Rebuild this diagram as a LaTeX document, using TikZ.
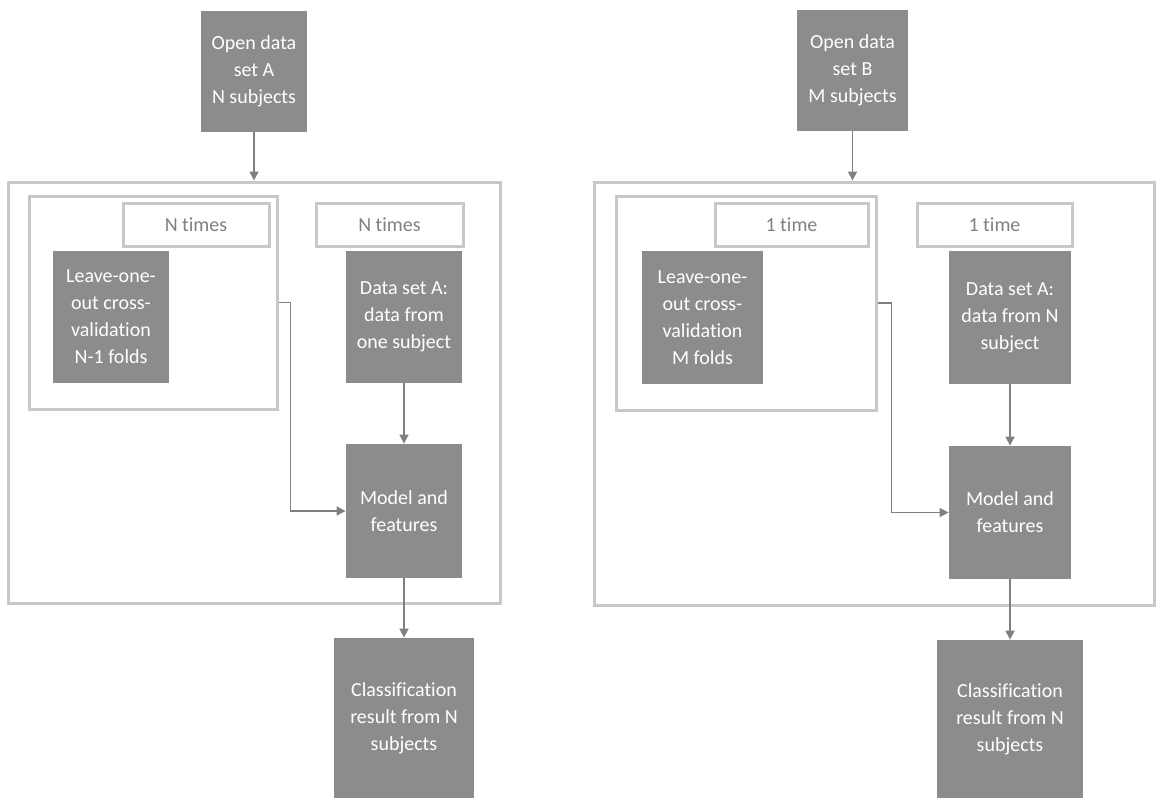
\documentclass[tikz,border=0pt]{standalone}
\usepackage{fontspec}
\setmainfont{Carlito}[Ligatures=NoCommon]
\usetikzlibrary{arrows.meta,positioning}
\definecolor{boxgray}{HTML}{8C8C8C}
\definecolor{framegray}{HTML}{C8C8C8}
\definecolor{linegray}{HTML}{808080}
\begin{document}
\begin{tikzpicture}[x=0.5pt,y=-0.5pt]
\useasboundingbox (0,0) rectangle (1156,798);
\tikzstyle{block}=[rectangle, fill=boxgray, text=white, inner sep=0pt, align=center, font=\fontsize{10}{13.5}\selectfont]
\tikzstyle{frame}=[rectangle, draw=framegray, line width=1.5pt, inner sep=0pt]
\tikzstyle{tag}=[frame, text=linegray, font=\fontsize{10}{12}\selectfont]
\tikzstyle{flow}=[draw=linegray, line width=0.75pt, -{Triangle[width=4.5pt,length=4.5pt]}]
% data set A
\node[frame, minimum width=246pt, minimum height=210.5pt] (outerA) at (254,392.5) {};
\node[frame, minimum width=124pt, minimum height=106.5pt] (innerA) at (153,302.5) {};
\node[tag, minimum width=73pt, minimum height=21.5pt] (tagA1) at (196,224.5) {N times};
\node[tag, minimum width=73.5pt, minimum height=21.5pt] (tagA2) at (389.5,224.5) {N times};
\node[block, minimum width=53pt, minimum height=60.5pt] (openA) at (254,71) {Open data\\set A\\N subjects};
\node[block, minimum width=58pt, minimum height=66pt] (looA) at (111,317) {Leave-one-\\out cross-\\validation\\N-1 folds};
\node[block, minimum width=58pt, minimum height=66pt] (dataA) at (404,317) {Data set A:\\data from\\one subject};
\node[block, minimum width=58pt, minimum height=67pt] (modelA) at (404,511) {Model and\\features};
\node[block, minimum width=70pt, minimum height=80pt] (classA) at (404,718) {Classification\\result from N\\subjects};
\draw[flow] (openA) -- (outerA.north);
\draw[flow] (dataA) -- (modelA);
\draw[flow] (modelA) -- (classA);
\draw[flow] (innerA.east) -- ++(12,0) |- (modelA.west);
% data set B
\node[frame, minimum width=280pt, minimum height=211.5pt] (outerB) at (874,393.5) {};
\node[frame, minimum width=130pt, minimum height=107pt] (innerB) at (746,303) {};
\node[tag, minimum width=76.5pt, minimum height=21.5pt] (tagB1) at (791.5,224.5) {1 time};
\node[tag, minimum width=77.5pt, minimum height=21.5pt] (tagB2) at (994.5,224.5) {1 time};
\node[block, minimum width=55.5pt, minimum height=60.5pt] (openB) at (852.5,70) {Open data\\set B\\M subjects};
\node[block, minimum width=60.5pt, minimum height=66.5pt] (looB) at (702.5,317.5) {Leave-one-\\out cross-\\validation\\M folds};
\node[block, minimum width=61pt, minimum height=66.5pt] (dataB) at (1010,317.5) {Data set A:\\data from N\\subject};
\node[block, minimum width=61pt, minimum height=66.5pt] (modelB) at (1010,512.5) {Model and\\features};
\node[block, minimum width=73pt, minimum height=79pt] (classB) at (1010,719) {Classification\\result from N\\subjects};
\draw[flow] (openB) -- (openB |- outerB.north);
\draw[flow] (dataB) -- (modelB);
\draw[flow] (modelB) -- (classB);
\draw[flow] (innerB.east) -- ++(14,0) |- (modelB.west);
\end{tikzpicture}
\end{document}
